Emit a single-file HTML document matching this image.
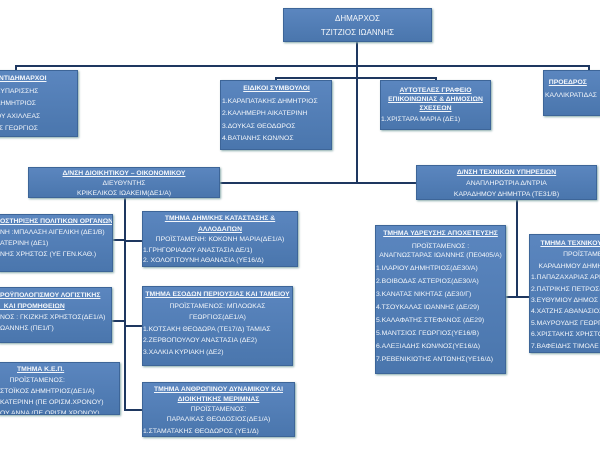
<!DOCTYPE html><html><head><meta charset="utf-8"><style>
body{margin:0;width:600px;height:450px;overflow:hidden;background:#fff;position:relative;font-family:"Liberation Sans","DejaVu Sans",sans-serif}
.b{position:absolute;background:linear-gradient(#5b86bf,#4a76ad);border:1px solid #3d6598;box-shadow:1px 1px 2px #8aa;color:#f4f7fb;font-size:6.8px;line-height:12.5px;text-align:center;overflow:hidden;box-sizing:border-box;padding-top:2px;white-space:nowrap}
.b u{font-weight:bold}
.l{text-align:left;padding-left:1px}
.h{position:absolute;background:#1e3760;height:2px}
.v{position:absolute;background:#1e3760;width:2px}
</style></head><body>
<div class="v" style="left:356px;top:42px;height:142px"></div>
<div class="h" style="left:15px;top:65px;width:575px"></div>
<div class="v" style="left:15px;top:65px;height:6px"></div>
<div class="v" style="left:588px;top:65px;height:6px"></div>
<div class="h" style="left:275px;top:77px;width:161px"></div>
<div class="v" style="left:275px;top:77px;height:4px"></div>
<div class="v" style="left:435px;top:77px;height:4px"></div>
<div class="h" style="left:218px;top:182px;width:200px"></div>
<div class="v" style="left:124px;top:197px;height:213px"></div>
<div class="h" style="left:112px;top:239px;width:13px"></div>
<div class="h" style="left:112px;top:320px;width:13px"></div>
<div class="h" style="left:124px;top:240px;width:18px"></div>
<div class="h" style="left:124px;top:325px;width:18px"></div>
<div class="h" style="left:124px;top:409px;width:18px"></div>
<div class="v" style="left:516px;top:200px;height:98px"></div>
<div class="h" style="left:505px;top:296px;width:24px"></div>

<div class="b" style="left:283px;top:8px;width:149px;height:34px;font-size:8px;line-height:14px;padding-top:3px">ΔΗΜΑΡΧΟΣ<br>ΤΖΙΤΖΙΟΣ ΙΩΑΝΝΗΣ</div>
<div class="b l" style="left:-8px;top:70px;width:86px;height:67px"><u>ΑΝΤΙΔΗΜΑΡΧΟΙ</u><br>&nbsp;ΚΥΠΑΡΙΣΣΗΣ<br>&nbsp;ΔΗΜΗΤΡΙΟΣ<br>ΙΟΥ ΑΧΙΛΛΕΑΣ<br>ΗΣ ΓΕΩΡΓΙΟΣ</div>
<div class="b l" style="left:220px;top:80px;width:112px;height:70px"><div style="text-align:center"><u>ΕΙΔΙΚΟΙ ΣΥΜΒΟΥΛΟΙ</u></div>1.ΚΑΡΑΠΑΤΑΚΗΣ ΔΗΜΗΤΡΙΟΣ<br>2.ΚΑΛΗΜΕΡΗ ΑΙΚΑΤΕΡΙΝΗ<br>3.ΔΟΥΚΑΣ ΘΕΟΔΩΡΟΣ<br>4.ΒΑΤΙΑΝΗΣ ΚΩΝ/ΝΟΣ</div>
<div class="b" style="left:380px;top:80px;width:111px;height:50px;line-height:9px;padding-top:5px"><u>ΑΥΤΟΤΕΛΕΣ ΓΡΑΦΕΙΟ<br>ΕΠΙΚΟΙΝΩΝΙΑΣ &amp; ΔΗΜΟΣΙΩΝ<br>ΣΧΕΣΕΩΝ</u><div style="text-align:left;line-height:14px">1.ΧΡΙΣΤΑΡΑ ΜΑΡΙΑ (ΔΕ1)</div></div>
<div class="b l" style="left:543px;top:70px;width:60px;height:46px;padding-top:6px">&nbsp;&nbsp;<u>ΠΡΟΕΔΡΟΣ</u><br>ΚΑΛΛΙΚΡΑΤΙΔΑΣ</div>
<div class="b" style="left:28px;top:167px;width:192px;height:31px;line-height:10px;padding-top:1px"><u>Δ/ΝΣΗ ΔΙΟΙΚΗΤΙΚΟΥ – ΟΙΚΟΝΟΜΙΚΟΥ</u><br>ΔΙΕΥΘΥΝΤΗΣ<br>ΚΡΙΚΕΛΙΚΟΣ ΙΩΑΚΕΙΜ(ΔΕ1/Α)</div>
<div class="b l" style="left:-2px;top:214px;width:115px;height:58px;line-height:11px;padding-top:1px"><u>ΟΣΤΗΡΙΞΗΣ ΠΟΛΙΤΙΚΩΝ ΟΡΓΑΝΩΝ</u><br>ΝΗ :ΜΠΑΛΑΣΗ ΑΙΓΕΛΙΚΗ (ΔΕ1/Β)<br>ΑΤΕΡΙΝΗ (ΔΕ1)<br>ΝΗΣ ΧΡΗΣΤΟΣ (ΥΕ ΓΕΝ.ΚΑΘ.)</div>
<div class="b l" style="left:-2px;top:287px;width:114px;height:56px;line-height:11px;padding-top:2px"><u>ΡΟΫΠΟΛΟΓΙΣΜΟΥ ΛΟΓΙΣΤΙΚΗΣ<br>&nbsp;&nbsp;ΚΑΙ ΠΡΟΜΗΘΕΙΩΝ</u><br>ΝΟΣ : ΓΚΙΖΚΗΣ ΧΡΗΣΤΟΣ(ΔΕ1/Α)<br>ΩΑΝΝΗΣ (ΠΕ1/Γ)</div>
<div class="b l" style="left:-2px;top:362px;width:122px;height:53px;line-height:11px;padding-top:1px">&nbsp;&nbsp;&nbsp;&nbsp;&nbsp;&nbsp;&nbsp;&nbsp;&nbsp;<u>ΤΜΗΜΑ Κ.Ε.Π.</u><br>&nbsp;&nbsp;&nbsp;&nbsp;&nbsp;ΠΡΟΪΣΤΑΜΕΝΟΣ:<br>ΣΤΟΪΚΟΣ ΔΗΜΗΤΡΙΟΣ(ΔΕ1/Α)<br>ΚΑΤΕΡΙΝΗ (ΠΕ ΟΡΙΣΜ.ΧΡΟΝΟΥ)<br>ΟΥ ΑΝΝΑ (ΠΕ ΟΡΙΣΜ.ΧΡΟΝΟΥ)</div>
<div class="b" style="left:142px;top:211px;width:156px;height:56px;line-height:10.5px;padding-top:2px"><u>ΤΜΗΜΑ ΔΗΜ/ΚΗΣ ΚΑΤΑΣΤΑΣΗΣ &amp;<br>ΑΛΛΟΔΑΠΩΝ</u><br>ΠΡΟΪΣΤΑΜΕΝΗ: ΚΟΚΟΝΗ ΜΑΡΙΑ(ΔΕ1/Α)<div style="text-align:left">1.ΓΡΗΓΟΡΙΑΔΟΥ ΑΝΑΣΤΑΣΙΑ ΔΕ/1)<br>2. ΧΟΛΟΓΙΤΟΥΝΗ ΑΘΑΝΑΣΙΑ (ΥΕ16/Δ)</div></div>
<div class="b" style="left:142px;top:286px;width:151px;height:80px;line-height:11.5px;padding-top:2px"><u>ΤΜΗΜΑ ΕΣΟΔΩΝ ΠΕΡΙΟΥΣΙΑΣ ΚΑΙ ΤΑΜΕΙΟΥ</u><br>ΠΡΟΪΣΤΑΜΕΝΟΣ: ΜΠΛΟΩΚΑΣ<br>ΓΕΩΡΓΙΟΣ(ΔΕ1/Α)<div style="text-align:left">1.ΚΟΤΣΑΚΗ ΘΕΟΔΩΡΑ (ΤΕ17/Δ) ΤΑΜΙΑΣ<br>2.ΖΕΡΒΟΠΟΥΛΟΥ ΑΝΑΣΤΑΣΙΑ (ΔΕ2)<br>3.ΧΑΛΚΙΑ ΚΥΡΙΑΚΗ (ΔΕ2)</div></div>
<div class="b" style="left:142px;top:382px;width:153px;height:55px;line-height:10px;padding-top:2px"><u>ΤΜΗΜΑ ΑΝΘΡΩΠΙΝΟΥ ΔΥΝΑΜΙΚΟΥ ΚΑΙ<br>ΔΙΟΙΚΗΤΙΚΗΣ ΜΕΡΙΜΝΑΣ</u><br>ΠΡΟΪΣΤΑΜΕΝΟΣ:<br>ΠΑΡΑΛΙΚΑΣ ΘΕΟΔΟΣΙΟΣ(ΔΕ1/Α)<div style="text-align:left;line-height:13px">1.ΣΤΑΜΑΤΑΚΗΣ ΘΕΟΔΩΡΟΣ (ΥΕ1/Δ)</div></div>
<div class="b" style="left:416px;top:165px;width:181px;height:35px;line-height:11px;padding-top:1px"><u>Δ/ΝΣΗ ΤΕΧΝΙΚΩΝ ΥΠΗΡΕΣΙΩΝ</u><br>ΑΝΑΠΛΗΡΩΤΡΙΑ Δ/ΝΤΡΙΑ<br>ΚΑΡΑΔΗΜΟΥ ΔΗΜΗΤΡΑ (ΤΕ31/Β)</div>
<div class="b" style="left:375px;top:225px;width:131px;height:149px;line-height:13px;padding-top:1px"><u>ΤΜΗΜΑ ΥΔΡΕΥΣΗΣ ΑΠΟΧΕΤΕΥΣΗΣ</u><div style="line-height:8.5px;padding:3px 0 2px">ΠΡΟΪΣΤΑΜΕΝΟΣ :<br>ΑΝΑΓΝΩΣΤΑΡΑΣ ΙΩΑΝΝΗΣ (ΠΕ0405/Α)</div><div style="text-align:left">1.ΙΛΑΡΙΟΥ ΔΗΜΗΤΡΙΟΣ(ΔΕ30/Α)<br>2.ΒΟΙΒΟΔΑΣ ΑΣΤΕΡΙΟΣ(ΔΕ30/Α)<br>3.ΚΑΝΑΤΑΣ ΝΙΚΗΤΑΣ (ΔΕ30/Γ)<br>4.ΤΣΟΥΚΑΛΑΣ ΙΩΑΝΝΗΣ (ΔΕ/29)<br>5.ΚΑΛΑΦΑΤΗΣ ΣΤΕΦΑΝΟΣ (ΔΕ29)<br>5.ΜΑΝΤΣΙΟΣ ΓΕΩΡΓΙΟΣ(ΥΕ16/Β)<br>6.ΑΛΕΞΙΑΔΗΣ ΚΩΝ/ΝΟΣ(ΥΕ16/Δ)<br>7.ΡΕΒΕΝΙΚΙΩΤΗΣ ΑΝΤΩΝΗΣ(ΥΕ16/Δ)</div></div>
<div class="b l" style="left:529px;top:234px;width:74px;height:119px;line-height:11.4px;padding-top:3px">&nbsp;&nbsp;&nbsp;&nbsp;&nbsp;<u>ΤΜΗΜΑ ΤΕΧΝΙΚΟΥ</u><br>&nbsp;&nbsp;&nbsp;&nbsp;&nbsp;&nbsp;&nbsp;&nbsp;&nbsp;&nbsp;&nbsp;&nbsp;&nbsp;&nbsp;&nbsp;&nbsp;&nbsp;ΠΡΟΪΣΤΑΜΕΝΗ<br>&nbsp;&nbsp;&nbsp;&nbsp;ΚΑΡΑΔΗΜΟΥ ΔΗΜΗΤΡΑ<br>1.ΠΑΠΑΖΑΧΑΡΙΑΣ ΑΡΙΣΤ.<br>2.ΠΑΤΡΙΚΗΣ ΠΕΤΡΟΣ(<br>3.ΕΥΘΥΜΙΟΥ ΔΗΜΟΣ<br>4.ΧΑΤΖΗΣ ΑΘΑΝΑΣΙΟΣ<br>5.ΜΑΥΡΟΥΔΗΣ ΓΕΩΡΓ<br>6.ΧΡΙΣΤΑΚΗΣ ΧΡΗΣΤΟΣ<br>7.ΒΑΦΕΙΔΗΣ ΤΙΜΟΛΕ</div>
</body></html>
